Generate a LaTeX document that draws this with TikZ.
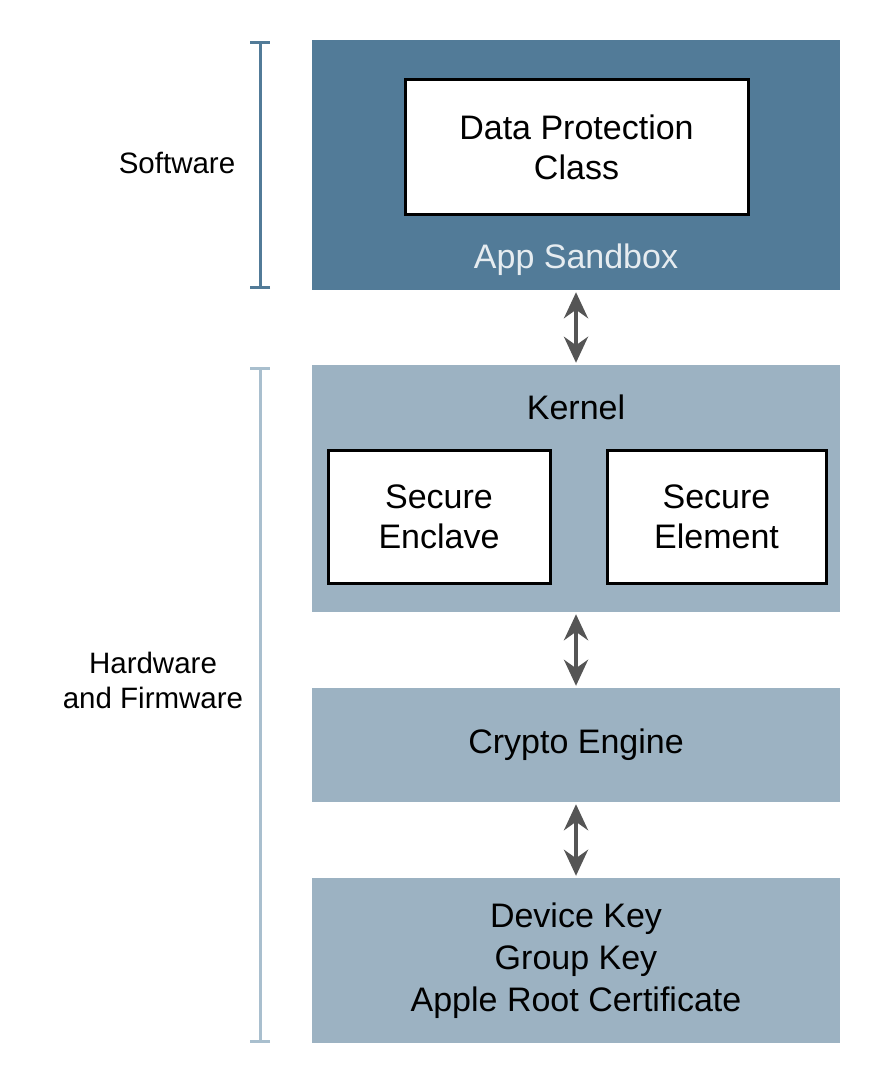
\documentclass[tikz,border=0pt]{standalone}
\usepackage{fontspec}
\setmainfont{Liberation Sans}
\usetikzlibrary{arrows.meta}
\definecolor{sandboxblue}{HTML}{527B98}
\definecolor{hwblue}{HTML}{9CB2C2}
\definecolor{bracketlight}{HTML}{A9BFCE}
\definecolor{arrowgray}{HTML}{555555}
\definecolor{sandboxtext}{HTML}{E6ECF0}

\begin{document}
\begin{tikzpicture}[x=1pt,y=-1pt,
    layer/.style={fill=#1, inner sep=0pt, minimum width=528pt},
    whitebox/.style={fill=white, draw=black, line width=3pt, inner sep=0pt, align=center},
    boxtext/.style={font=\fontsize{34}{40}\selectfont, align=center},
    sidetext/.style={font=\fontsize{29.5}{35}\selectfont, align=center},
    dblarrow/.style={arrowgray, line width=4pt, shorten <=2pt, shorten >=2pt,
      {Stealth[length=26pt,width=24pt]}-{Stealth[length=26pt,width=24pt]}},
    bracket/.style={line width=3pt, {Bar[width=20pt]}-{Bar[width=20pt]}}]
    \useasboundingbox (0,0) rectangle (882,1075);
    % software layer
    \node[layer=sandboxblue, minimum height=250pt] (sandbox) at (576,165) {};
    \node[whitebox, minimum width=343pt, minimum height=135pt] (dpc) at (576.5,147.5) {};
    \node[boxtext] at (dpc) {Data Protection\\Class};
    \node[boxtext, text=sandboxtext] (sandboxlabel) at (576,260) {App Sandbox};
    % hardware and firmware
    \node[layer=hwblue, minimum height=247pt] (kernel) at (576,488.5) {};
    \node[boxtext] (kernellabel) at (576,407) {Kernel};
    \node[whitebox, minimum width=222pt, minimum height=133pt] (enclave) at (439,516.5) {};
    \node[boxtext] at (enclave) {Secure\\Enclave};
    \node[whitebox, minimum width=219pt, minimum height=133pt] (element) at (716.5,516.5) {};
    \node[boxtext] at (element) {Secure\\Element};
    \node[layer=hwblue, minimum height=114pt] (crypto) at (576,745) {};
    \node[boxtext] at (crypto) {Crypto Engine};
    \node[layer=hwblue, minimum height=165pt] (keys) at (576,960.5) {};
    \node[boxtext, font=\fontsize{34}{42}\selectfont] at (keys) {Device Key\\Group Key\\Apple Root Certificate};
    % arrows between layers
    \draw[dblarrow] (sandbox) -- (kernel);
    \draw[dblarrow] (kernel) -- (crypto);
    \draw[dblarrow] (crypto) -- (keys);
    % brackets
    \coordinate (swtop) at (260,41);
    \coordinate (swbot) at (260,289);
    \coordinate (hwtop) at (260,367);
    \coordinate (hwbot) at (260,1043);
    \draw[bracket, sandboxblue] (swtop) -- (swbot);
    \draw[bracket, bracketlight] (hwtop) -- (hwbot);
    \node[sidetext] (swlabel) at (177,163) {Software};
    \node[sidetext] (hwlabel) at (153,680) {Hardware\\and Firmware};
\end{tikzpicture}
\end{document}
